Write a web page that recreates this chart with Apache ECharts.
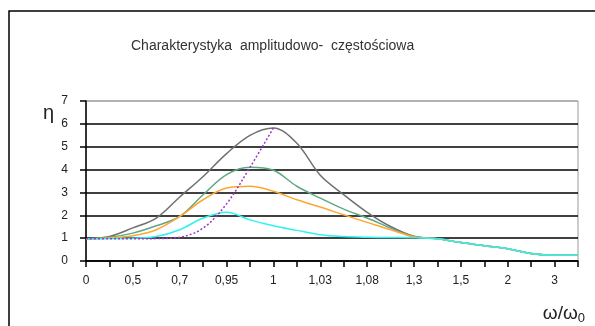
<!DOCTYPE html>
<html>
<head>
<meta charset="utf-8">
<script src="https://cdn.jsdelivr.net/npm/echarts@6/dist/echarts.min.js"></script>
<style>
html,body{margin:0;padding:0;background:#fff;}
#chart{width:595px;height:326px;}
</style>
</head>
<body>
<div id="chart"></div>
<script>
// Category tick labels (every other category is labelled)
var categories = ['0','','0,5','','0,7','','0,95','','1','','1,03','','1,08','','1,3','','1,5','','2','','3',''];
// Series values (η at each category)
var grayValues   = [0.97,1.07,1.45,1.88,2.8,3.7,4.7,5.5,5.82,5.15,3.75,2.9,2.13,1.51,1.08,0.97,0.81,0.67,0.54,0.33,0.25,0.25];
var greenValues  = [0.97,1.04,1.22,1.54,1.95,2.9,3.78,4.1,3.97,3.27,2.75,2.27,1.88,1.44,1.06,0.97,0.81,0.67,0.54,0.33,0.25,0.25];
var orangeValues = [0.97,1.01,1.1,1.37,1.95,2.68,3.19,3.27,3.05,2.68,2.36,2.02,1.69,1.37,1.06,0.97,0.81,0.67,0.54,0.33,0.25,0.25];
var cyanValues   = [0.97,0.98,1.0,1.07,1.37,1.88,2.13,1.8,1.54,1.34,1.15,1.07,1.04,1.03,1.02,0.97,0.81,0.67,0.54,0.33,0.25,0.25];
var purpleValues = [0.97,0.97,0.97,0.98,1.04,1.44,2.5,4.1,5.82,null,null,null,null,null,null,null,null,null,null,null,null,null];
var yTicks = {min:0, max:7, interval:1};

var chart = echarts.init(document.getElementById('chart'), null, {renderer:'canvas'});
var font = 'Liberation Sans, Arial, sans-serif';
function line(data, color, width, type, smooth){
  return {type:'line', data:data, symbol:'none', smooth:smooth, connectNulls:false,
    lineStyle:{color:color, width:width, type:type}, itemStyle:{color:color}};
}
chart.setOption({
  animation:false,
  backgroundColor:'#fff',
  title:{text:'Charakterystyka  amplitudowo-  częstościowa', left:126, top:34,
    textStyle:{fontFamily:font, fontSize:14, fontWeight:'normal', color:'#333'}},
  grid:{left:86, right:17, top:101, bottom:65, show:true, borderColor:'#999', borderWidth:1},
  xAxis:{type:'category', data:categories, boundaryGap:false,
    name:'ω/ω{s|0}', nameLocation:'end', nameGap:7,
    nameTextStyle:{fontFamily:font, fontSize:19, color:'#222', align:'right', verticalAlign:'top', padding:[41,0,0,0],
      rich:{s:{fontFamily:font, fontSize:13, color:'#222', padding:[10,0,0,0]}}},
    axisLine:{lineStyle:{color:'#000', width:1.5}},
    axisTick:{interval:0, length:6, lineStyle:{color:'#000', width:1.5}},
    axisLabel:{interval:1, margin:14, fontFamily:font, fontSize:12, color:'#222'},
    splitLine:{show:false}},
  yAxis:{type:'value', min:yTicks.min, max:yTicks.max, interval:yTicks.interval,
    axisLine:{show:true, lineStyle:{color:'#000', width:1.5}},
    axisTick:{show:true, length:6, lineStyle:{color:'#000', width:1.5}},
    axisLabel:{margin:18, fontFamily:font, fontSize:12, color:'#222'},
    splitLine:{show:true, lineStyle:{color:['#000','#000','#000','#000','#000','#000','#000','#aaa'], width:1.5}}},
  series:[
    line(grayValues,'#707070',1.5,'solid',0.35),
    line(greenValues,'#5fa883',1.5,'solid',0.35),
    line(orangeValues,'#ffa534',1.5,'solid',0.35),
    line(cyanValues,'#2ef2f2',1.5,'solid',0.35),
    line(purpleValues,'#a035c8',1.5,[2,2],0.35)
  ],
  graphic:[
    {type:'rect', shape:{x:9, y:11, width:600, height:330}, style:{fill:'none', stroke:'#000', lineWidth:1.5}, silent:true},
    {type:'text', x:43, y:103, z:100, style:{text:'η', font:'20px Liberation Sans, Arial, sans-serif', fill:'#222', verticalAlign:'top'}}
  ]
});
</script>
</body>
</html>
